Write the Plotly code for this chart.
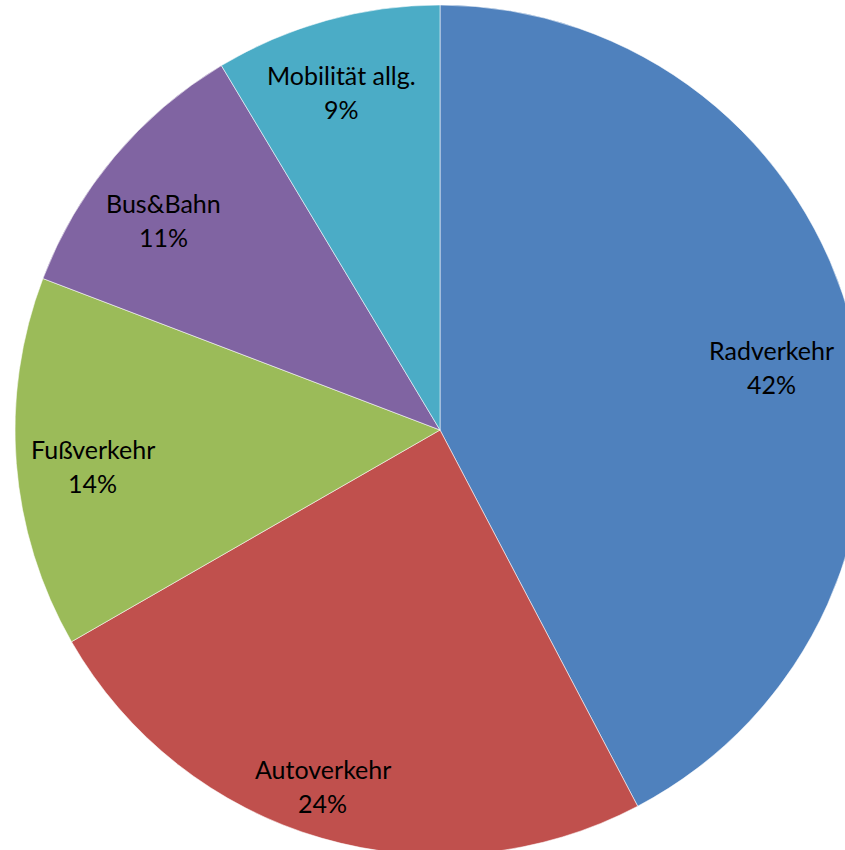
import math
import plotly.graph_objects as go

categories = ["Radverkehr", "Autoverkehr", "Fußverkehr", "Bus&Bahn", "Mobilität allg."]
values = [42.3, 24.4, 14.1, 10.6, 8.6]
colors = ["#4F81BD", "#C0504D", "#9BBB59", "#8064A2", "#4BACC6"]
label_radius = [0.793, 0.882, 0.821, 0.816, 0.828]
label_angle_adjust = [3.1, 2.0, -1.4, -2.7, -0.8]

W, H = 880, 860
ML, MR, MT, MB = 15, 15, 5, 5

fig = go.Figure(go.Pie(
    labels=categories, values=values, sort=False, direction="clockwise", rotation=0,
    marker=dict(colors=colors, line=dict(color="rgba(255,255,255,0.55)", width=1)),
    textinfo="none", hoverinfo="label+percent", showlegend=False,
    domain=dict(x=[0, 1], y=[0, 1]),
))

total = sum(values)
cum = 0.0
annotations = []
font = dict(family="Lato, Open Sans, sans-serif", size=25, color="#000000")
for name, v, fr, adj in zip(categories, values, label_radius, label_angle_adjust):
    mid = math.radians((cum + v / 2) / total * 360 + adj)
    cum += v
    r = fr * 0.5
    px = 0.5 + r * math.sin(mid)
    py = 0.5 + r * math.cos(mid)
    pct = f"{round(v / total * 100)}%"
    annotations.append(dict(x=px, y=py, xref="paper", yref="paper", text=name,
                            showarrow=False, font=font, yshift=17, xanchor="center", yanchor="middle"))
    annotations.append(dict(x=px, y=py, xref="paper", yref="paper", text=pct,
                            showarrow=False, font=font, yshift=-17, xanchor="center", yanchor="middle"))

fig.update_layout(
    width=W, height=H, margin=dict(l=ML, r=MR, t=MT, b=MB),
    paper_bgcolor="white", plot_bgcolor="white",
    annotations=annotations,
)

fig.write_html("out.html", config={"displayModeBar": False},
               post_script="document.body.style.margin='0px';document.body.style.overflow='hidden';")
